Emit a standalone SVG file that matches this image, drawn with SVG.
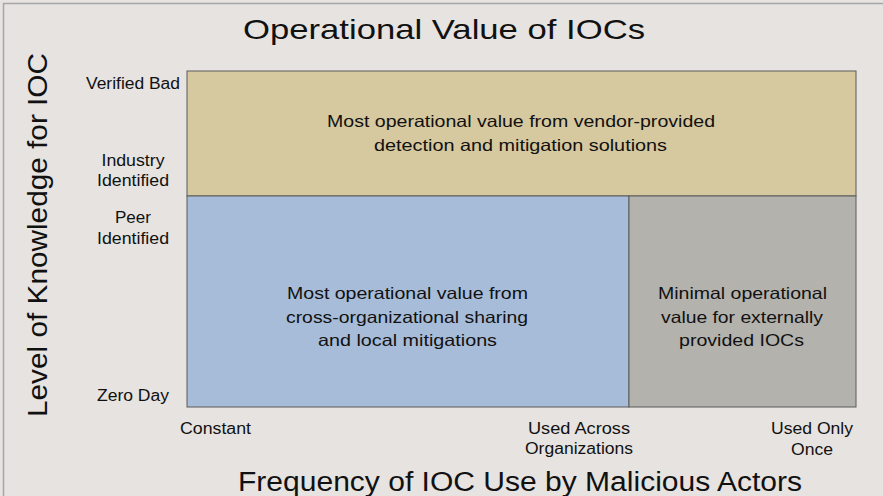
<svg xmlns="http://www.w3.org/2000/svg" width="883" height="496" viewBox="0 0 883 496">
<style>
text{font-family:"Liberation Sans",Arial,Helvetica,sans-serif;fill:#111}
.title{font-size:28px;text-anchor:middle}
.axis{font-size:27px;text-anchor:middle}
.tick{font-size:16px;text-anchor:middle}
.body{font-size:16.5px;text-anchor:middle}
.region{stroke:#5a5a5a;stroke-width:1}
</style>
<rect x="0" y="0" width="883" height="496" fill="#e6e3e0"/>
<path d="M3.5 496 V3.5 H883" fill="none" stroke="#a6a6a6" stroke-width="1.5"/>
<g id="title"><text class="title" x="444" y="39" textLength="402" lengthAdjust="spacingAndGlyphs">Operational Value of IOCs</text></g>
<g id="y-axis-label"><text class="axis" transform="translate(47,235) rotate(-90)" x="0" y="0" textLength="364" lengthAdjust="spacingAndGlyphs">Level of Knowledge for IOC</text></g>
<g id="x-axis-label"><text class="axis" x="520" y="491" textLength="564" lengthAdjust="spacingAndGlyphs">Frequency of IOC Use by Malicious Actors</text></g>
<g id="y-ticks">
<text class="tick" x="133" y="89" textLength="94" lengthAdjust="spacingAndGlyphs">Verified Bad</text>
<text class="tick" x="133" y="166" textLength="63" lengthAdjust="spacingAndGlyphs">Industry</text>
<text class="tick" x="133" y="186" textLength="72" lengthAdjust="spacingAndGlyphs">Identified</text>
<text class="tick" x="133" y="223" textLength="36" lengthAdjust="spacingAndGlyphs">Peer</text>
<text class="tick" x="133" y="244" textLength="72" lengthAdjust="spacingAndGlyphs">Identified</text>
<text class="tick" x="133" y="401" textLength="72" lengthAdjust="spacingAndGlyphs">Zero Day</text>
</g>
<g id="x-ticks">
<text class="tick" x="215.5" y="434" textLength="71" lengthAdjust="spacingAndGlyphs">Constant</text>
<text class="tick" x="579" y="434" textLength="102" lengthAdjust="spacingAndGlyphs">Used Across</text>
<text class="tick" x="579" y="454" textLength="108" lengthAdjust="spacingAndGlyphs">Organizations</text>
<text class="tick" x="812" y="434" textLength="82" lengthAdjust="spacingAndGlyphs">Used Only</text>
<text class="tick" x="812" y="455" textLength="42" lengthAdjust="spacingAndGlyphs">Once</text>
</g>
<g id="vendor-region">
<rect class="region" x="187" y="71" width="669" height="125" fill="#d6c89f"/>
<text class="body" x="521" y="127" textLength="388" lengthAdjust="spacingAndGlyphs">Most operational value from vendor-provided</text>
<text class="body" x="520.5" y="151" textLength="293" lengthAdjust="spacingAndGlyphs">detection and mitigation solutions</text>
</g>
<g id="sharing-region">
<rect class="region" x="187" y="196" width="442" height="211" fill="#a7bcd8"/>
<text class="body" x="407.5" y="299" textLength="241" lengthAdjust="spacingAndGlyphs">Most operational value from</text>
<text class="body" x="407" y="323" textLength="242" lengthAdjust="spacingAndGlyphs">cross-organizational sharing</text>
<text class="body" x="407.5" y="346" textLength="179" lengthAdjust="spacingAndGlyphs">and local mitigations</text>
</g>
<g id="minimal-region">
<rect class="region" x="629" y="196" width="227" height="211" fill="#b3b2ad"/>
<text class="body" x="742.5" y="299" textLength="169" lengthAdjust="spacingAndGlyphs">Minimal operational</text>
<text class="body" x="742" y="323" textLength="162" lengthAdjust="spacingAndGlyphs">value for externally</text>
<text class="body" x="741.5" y="346" textLength="125" lengthAdjust="spacingAndGlyphs">provided IOCs</text>
</g>
<g id="connectors"></g>
</svg>
